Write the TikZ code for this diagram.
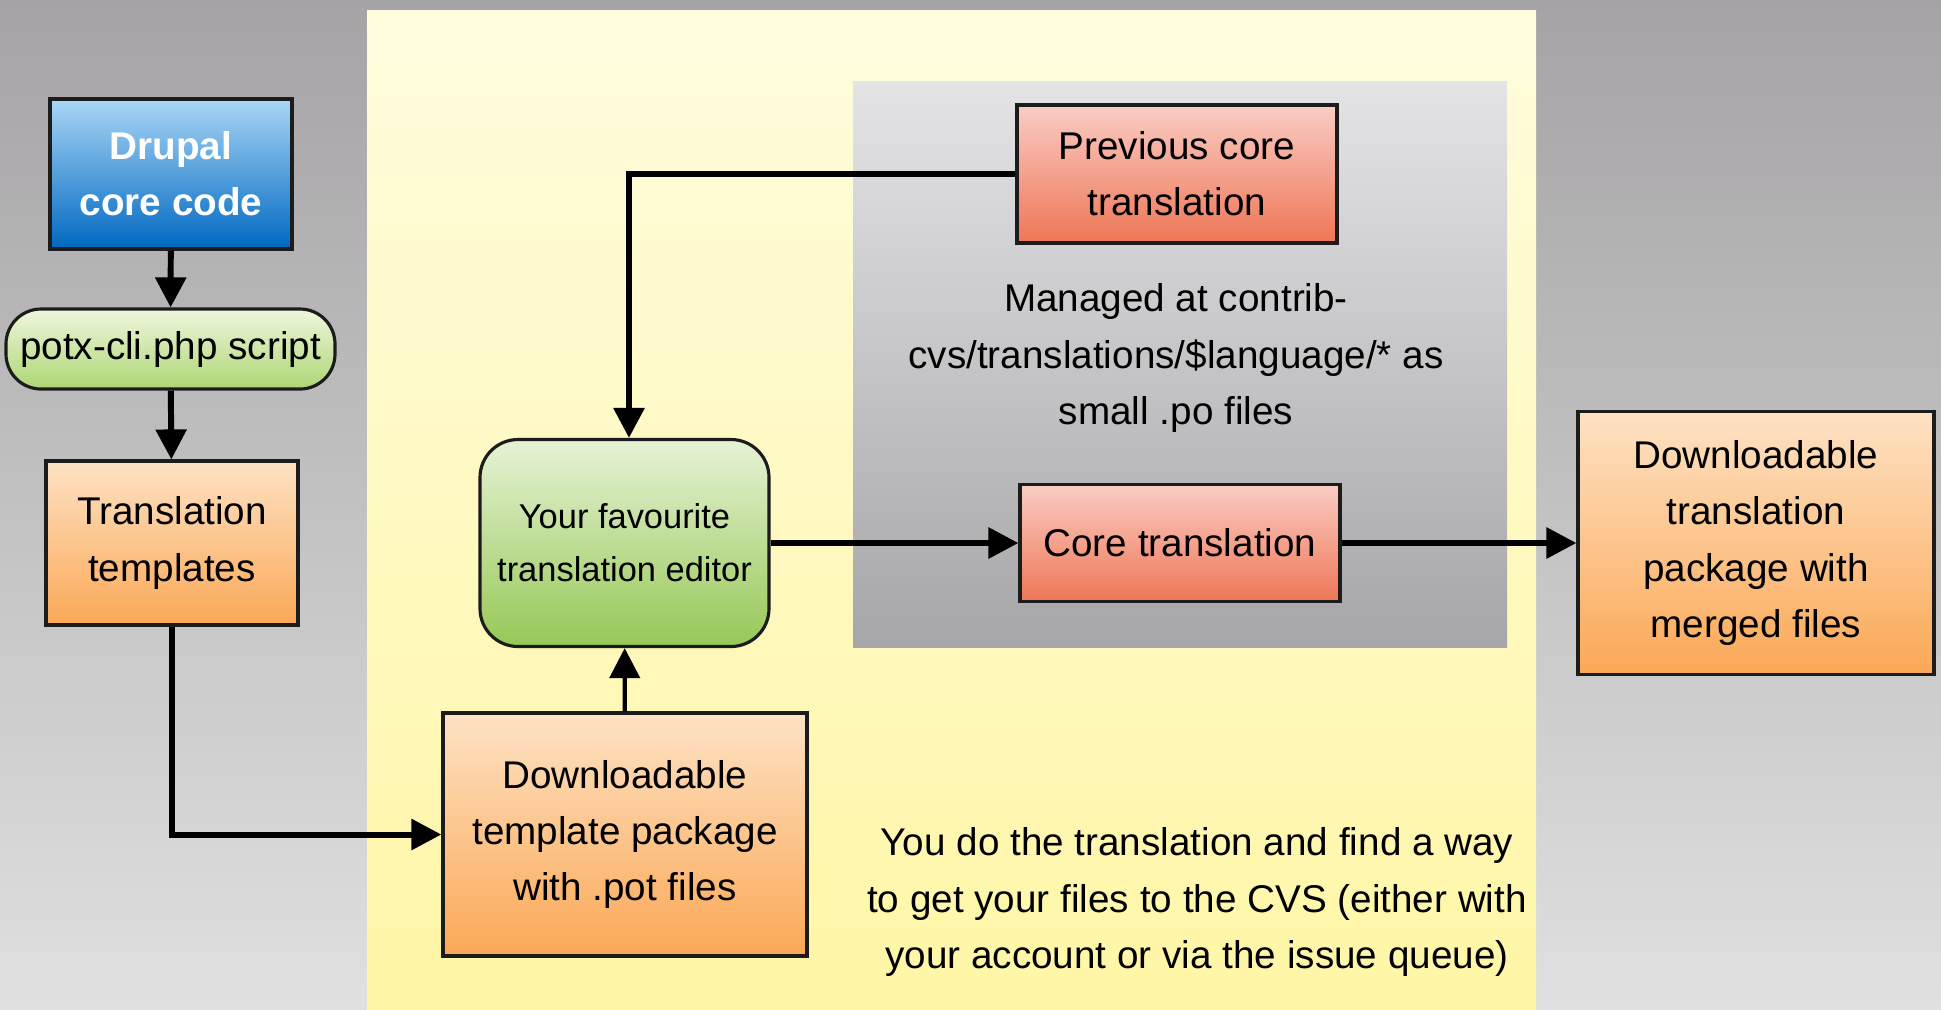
\documentclass[tikz,border=0pt]{standalone}
\usepackage{fontspec}
\setmainfont{Liberation Sans}
\usetikzlibrary{arrows.meta}

\definecolor{bgtop}{RGB}{165,163,165}
\definecolor{bgbot}{RGB}{224,224,224}
\definecolor{yeltop}{RGB}{255,252,222}
\definecolor{yelbot}{RGB}{255,246,166}
\definecolor{greytop}{RGB}{228,228,230}
\definecolor{greybot}{RGB}{166,166,168}
\definecolor{bluetop}{RGB}{170,214,246}
\definecolor{bluebot}{RGB}{0,104,192}
\definecolor{ortop}{RGB}{253,226,196}
\definecolor{orbot}{RGB}{251,168,86}
\definecolor{redtop}{RGB}{250,204,196}
\definecolor{redbot}{RGB}{238,118,86}
\definecolor{grtop}{RGB}{240,246,222}
\definecolor{grbot}{RGB}{172,214,116}
\definecolor{edtop}{RGB}{230,242,214}
\definecolor{edbot}{RGB}{150,200,86}
\definecolor{boxline}{RGB}{28,28,28}

\begin{document}
\begin{tikzpicture}[
  every node/.style={font=\fontsize{11}{16}\selectfont, align=center, inner sep=0pt},
  box/.style={draw=boxline, line width=0.9pt},
  bluebox/.style={box, top color=bluetop, bottom color=bluebot, text=white, font=\fontsize{11}{16}\selectfont\bfseries},
  orangebox/.style={box, top color=ortop, bottom color=orbot},
  redbox/.style={box, top color=redtop, bottom color=redbot},
  link/.style={line width=1.7pt, -{Triangle[length=0.3cm,width=0.3cm]}}
]
\useasboundingbox (0,0) rectangle (19.41,-10.09);

% background and the two panels
\shade[top color=bgtop, bottom color=bgbot] (0,0) rectangle (19.41,-10.09);
\shade[top color=yeltop, bottom color=yelbot] (3.67,-0.10) rectangle (15.36,-10.09);
\shade[top color=greytop, bottom color=greybot] (8.53,-0.81) rectangle (15.07,-6.47);

% left column
\node (drupal) at (1.71,-1.74) [bluebox, minimum width=2.42cm, minimum height=1.50cm] {Drupal\\core code};
\node (potx) at (1.705,-3.49) [box, top color=grtop, bottom color=grbot, rounded corners=0.35cm, minimum width=3.29cm, minimum height=0.80cm] {potx-cli.php script};
\node (templ) at (1.72,-5.43) [orangebox, minimum width=2.52cm, minimum height=1.64cm] {Translation\\templates};

% yellow panel
\node (pot) at (6.25,-8.345) [orangebox, minimum width=3.64cm, minimum height=2.43cm] {Downloadable\\template package\\with .pot files};
\node (editor) at (6.245,-5.43) [box, top color=edtop, bottom color=edbot, rounded corners=0.38cm, minimum width=2.89cm, minimum height=2.07cm, font=\fontsize{9.8}{15}\selectfont] {Your favourite\\translation editor};
\node (prev) at (11.77,-1.74) [redbox, minimum width=3.20cm, minimum height=1.38cm] {Previous core\\translation};
\node (core) at (11.80,-5.43) [redbox, minimum width=3.20cm, minimum height=1.17cm] {Core translation};
\node (managed) at (11.76,-3.58) {Managed at contrib-\\cvs/translations/\$language/* as\\small .po files};
\node (note) at (11.97,-9.02) {You do the translation and find a way\\to get your files to the CVS (either with\\your account or via the issue queue)};

% right
\node (merged) at (17.56,-5.43) [orangebox, minimum width=3.56cm, minimum height=2.63cm] {Downloadable\\translation\\package with\\merged files};

\draw[link] (drupal) to (potx);
\draw[link] (potx) to (templ);
\draw[link] (templ.south) |- (pot.west);
\draw[link, line width=1.2pt] (pot) to (editor);
\draw[link] (prev.west) -| ([xshift=0.045cm]editor.north);
\draw[link] (editor.east) to (core.west);
\draw[link] (core.east) to (merged.west);
\end{tikzpicture}
\end{document}
